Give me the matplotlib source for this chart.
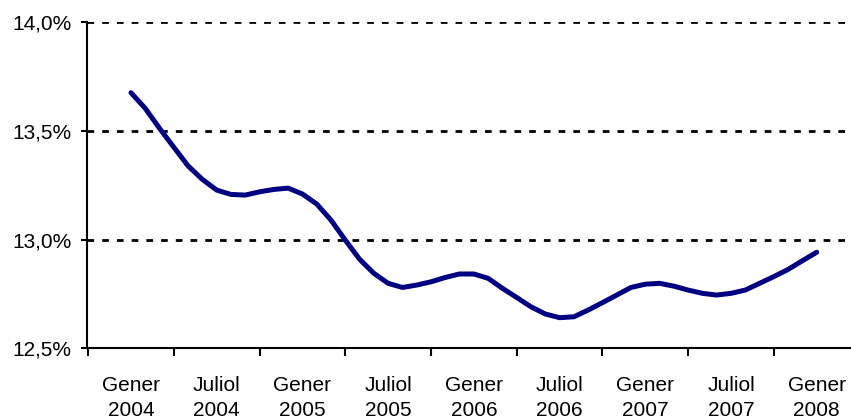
import numpy as np
import matplotlib
matplotlib.use('Agg')
import matplotlib.pyplot as plt

plt.rcParams['font.family'] = ['Liberation Sans', 'DejaVu Sans']

# monthly values, Gener 2004 .. Gener 2008
values = [13.676, 13.604, 13.512, 13.425, 13.339, 13.277, 13.228, 13.208, 13.205,
          13.220, 13.231, 13.237, 13.210, 13.164, 13.090, 12.998, 12.910, 12.845,
          12.799, 12.780, 12.791, 12.806, 12.826, 12.842, 12.842, 12.822, 12.776,
          12.734, 12.691, 12.658, 12.641, 12.645, 12.676, 12.710, 12.745, 12.780,
          12.795, 12.799, 12.786, 12.768, 12.753, 12.745, 12.753, 12.768, 12.799,
          12.830, 12.863, 12.903, 12.942]
tick_labels = ['Gener\n2004', 'Juliol\n2004', 'Gener\n2005', 'Juliol\n2005', 'Gener\n2006',
               'Juliol\n2006', 'Gener\n2007', 'Juliol\n2007', 'Gener\n2008']
y_ticks = [12.5, 13.0, 13.5, 14.0]
y_labels = ['12,5%', '13,0%', '13,5%', '14,0%']

fig = plt.figure(figsize=(8.51, 4.19), dpi=100)
ax = fig.add_axes([0.1022, 0.1687, 0.8978, 0.7781])

x = np.arange(len(values))
for yv in y_ticks[1:]:
    ax.axhline(yv, color='black', lw=2, linestyle=(0, (2.4, 2.9)), zorder=1)
ax.plot(x, values, color='#000080', lw=3.6, solid_capstyle='round', zorder=3)

ax.set_xlim(-3.08, 50.4)
ax.set_ylim(12.5, 14.0)

ax.set_xticks(np.arange(0, 49, 6))
ax.set_xticklabels(tick_labels, fontsize=15, linespacing=1.4)
ax.set_xticks(np.arange(-3, 46, 6), minor=True)
ax.tick_params(axis='x', which='major', length=0, pad=20)
ax.tick_params(axis='x', which='minor', length=6, width=1.5, direction='out')

ax.set_yticks(y_ticks)
ax.set_yticklabels(y_labels, fontsize=15)
ax.tick_params(axis='y', length=4.3, width=1.5, direction='out', pad=7)

for s in ['top', 'right']:
    ax.spines[s].set_visible(False)
for s in ['left', 'bottom']:
    ax.spines[s].set_linewidth(1.5)

plt.savefig('out.png', dpi=100)
